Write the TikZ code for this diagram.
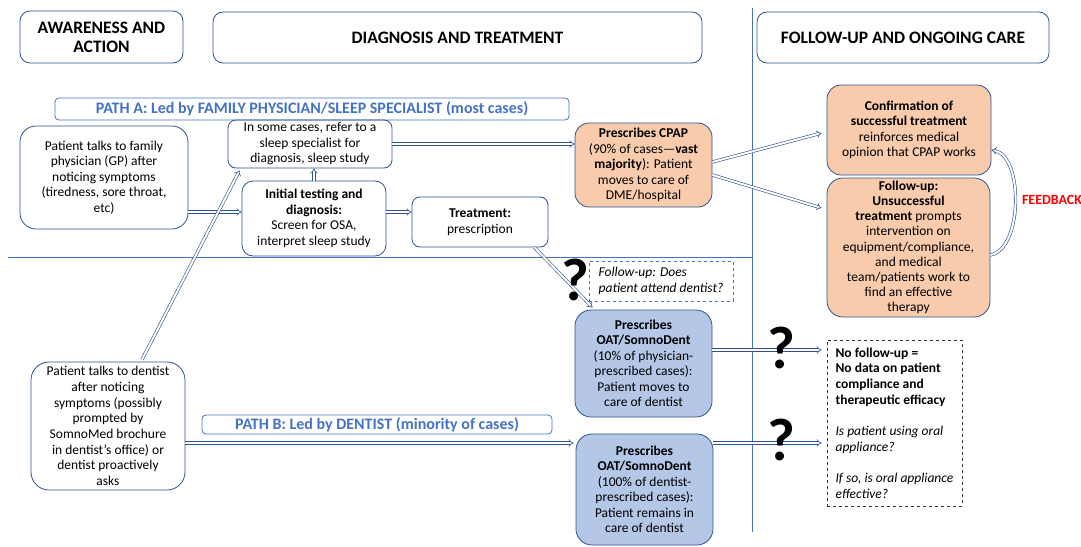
\documentclass[tikz,border=0pt]{standalone}
\usepackage{fontspec}
\setmainfont{Carlito}
\usetikzlibrary{arrows.meta,calc}
\definecolor{bdr}{HTML}{2F528F}
\definecolor{sep}{HTML}{4472C4}
\definecolor{orfill}{HTML}{F8CBAD}
\definecolor{blfill}{HTML}{B4C7E7}
\definecolor{fbred}{HTML}{FF0000}
\tikzset{
  box/.style={draw=bdr, line width=0.8pt, rounded corners=11pt, align=center, inner sep=0pt, font=\fontsize{13.5}{15.5}\selectfont},
  hdr/.style={draw=bdr, line width=0.8pt, rounded corners=10pt, align=center, inner sep=0pt, font=\fontsize{17.5}{19}\selectfont\bfseries},
  banner/.style={draw=sep, line width=0.8pt, rounded corners=4pt, inner sep=0pt, text=sep, font=\fontsize{16}{18}\selectfont\bfseries},
  orbox/.style={box, fill=orfill},
  blbox/.style={box, fill=blfill},
  qmark/.style={inner sep=0pt, font=\fontsize{60}{60}\selectfont\bfseries},
  dbl/.style={draw=bdr, double=white, double distance=2pt, line width=0.6pt, -{Implies}},
  sepline/.style={draw=sep, line width=0.8pt}
}
\begin{document}
\begin{tikzpicture}[x=1pt,y=-1pt]
\useasboundingbox (0,0) rectangle (1081,546);
% separators
\draw[sepline] (8,257) -- (752,257);
\draw[sepline] (752,8) -- (752,532);
% headers
\node[hdr, minimum width=163, minimum height=52] (h1) at (101.5,37) {AWARENESS AND\\ACTION};
\node[hdr, minimum width=489, minimum height=51] (h2) at (457.5,37.5) {DIAGNOSIS AND TREATMENT};
\node[hdr, minimum width=292, minimum height=51] (h3) at (903,37.5) {FOLLOW-UP AND ONGOING CARE};
% banners
\node[banner, minimum width=514, minimum height=22] (pathA) at (312,109) {PATH A: Led by FAMILY PHYSICIAN/SLEEP SPECIALIST (most cases)};
\node[banner, minimum width=350, minimum height=19] (pathB) at (377,424.5) {PATH B: Led by DENTIST (minority of cases)};
% boxes
\node[box, minimum width=168, minimum height=103, rounded corners=16pt] (gp) at (104,177.5) {Patient talks to family\\physician (GP) after\\noticing symptoms\\(tiredness, sore throat,\\etc)};
\node[box, minimum width=164, minimum height=48, rounded corners=8pt] (some) at (310,144) {In some cases, refer to a\\sleep specialist for\\diagnosis, sleep study};
\node[box, minimum width=144, minimum height=75] (init) at (314,218.5) {\textbf{Initial testing and}\\\textbf{diagnosis:}\\Screen for OSA,\\interpret sleep study};
\node[box, minimum width=136, minimum height=50, rounded corners=8pt] (treat) at (480,222) {\textbf{Treatment:}\\prescription};
\node[orbox, minimum width=137, minimum height=84, rounded corners=14pt] (cpap) at (643.5,165) {\textbf{Prescribes CPAP}\\(90\% of cases---\textbf{vast}\\\textbf{majority}): Patient\\moves to care of\\DME/hospital};
\node[orbox, minimum width=164, minimum height=90, rounded corners=14pt] (conf) at (909,130) {\textbf{Confirmation of}\\\textbf{successful treatment}\\reinforces medical\\opinion that CPAP works};
\node[orbox, minimum width=163, minimum height=139, rounded corners=16pt, font=\fontsize{13.5}{15.2}\selectfont] (fu) at (908.5,247.5) {\textbf{Follow-up:}\\\textbf{Unsuccessful}\\\textbf{treatment} prompts\\intervention on\\equipment/compliance,\\and medical\\team/patients work to\\find an effective\\therapy};
\node[text=fbred, font=\fontsize{14}{16}\selectfont\bfseries, inner sep=0pt] (fb) at (1052,200) {FEEDBACK};
\node[draw=sep, dashed, line width=0.8pt, align=left, inner sep=0pt, minimum width=144, minimum height=40, font=\fontsize{13.5}{15.5}\selectfont\itshape] (dq) at (661,281) {Follow-up: Does\\patient attend dentist?};
\node[blbox, minimum width=137, minimum height=107, rounded corners=16pt] (oat1) at (643.5,363.5) {\textbf{Prescribes}\\\textbf{OAT/SomnoDent}\\(10\% of physician-\\prescribed cases):\\Patient moves to\\care of dentist};
\node[blbox, minimum width=137, minimum height=111, rounded corners=16pt] (oat2) at (644.5,489.5) {\textbf{Prescribes}\\\textbf{OAT/SomnoDent}\\(100\% of dentist-\\prescribed cases):\\Patient remains in\\care of dentist};
\node[box, minimum width=154, minimum height=128, rounded corners=18pt, font=\fontsize{13.5}{15.7}\selectfont] (dent) at (108,426) {Patient talks to dentist\\after noticing\\symptoms (possibly\\prompted by\\SomnoMed brochure\\in dentist’s office) or\\dentist proactively\\asks};
\node[draw=black!80, dashed, line width=0.8pt, align=left, inner sep=0pt, minimum width=135, minimum height=166, font=\fontsize{13.5}{15.7}\selectfont] (nofu) at (894.5,423) {\textbf{No follow-up =}\\\textbf{No data on patient}\\\textbf{compliance and}\\\textbf{therapeutic efficacy}\\[15.7pt]\textit{Is patient using oral}\\\textit{appliance?}\\[15.7pt]\textit{If so, is oral appliance}\\\textit{effective?}};
% helper coordinates
\coordinate (o1a) at ([yshift=13.5pt]oat1.east);
\coordinate (o1t) at (o1a -| nofu.west);
\coordinate (o2a) at ([yshift=46.5pt]oat2.east);
\coordinate (o2t) at (o2a -| nofu.west);
\coordinate (dna) at ([yshift=-17pt]dent.east);
\coordinate (dnt) at (dna -| oat2.west);
% arrows
\draw[dbl] ([yshift=-34.5pt]gp.east) -- ([yshift=6.5pt]init.west);
\draw[dbl] (init.north) -- (init.north |- some.south);
\draw[dbl] ([yshift=6.5pt]init.east) -- ([yshift=10pt]treat.west);
\draw[dbl] (some.east) -- (some.east -| cpap.west);
\draw[dbl] ([xshift=-14pt]treat.south east) -- ([xshift=18pt,yshift=2pt]oat1.north west);
\draw[dbl] ([xshift=34pt,yshift=2pt]dent.north) -- ([xshift=12pt,yshift=-2pt]some.south west);
\draw[dbl] (dna) -- ([xshift=-2pt]dnt);
\draw[dbl] ([yshift=3pt]cpap.east) -- ([xshift=-5pt,yshift=-3pt]conf.west);
\draw[dbl] ([yshift=-10pt]cpap.east) -- ([xshift=-5pt,yshift=39.5pt]fu.west);
\draw[dbl] (o1a) -- ([xshift=-5pt]o1t);
\draw[dbl] (o2a) -- ([xshift=-5pt]o2t);
\draw[dbl] ([yshift=-7.5pt]fu.east) to[out=10, in=-10, looseness=0.8] ([yshift=-20pt]conf.east);
% question marks
\node[qmark] (q1) at (575,280) {?};
\node[qmark] (q2) at (781,348) {?};
\node[qmark] (q3) at (781,440) {?};
\end{tikzpicture}
\end{document}
